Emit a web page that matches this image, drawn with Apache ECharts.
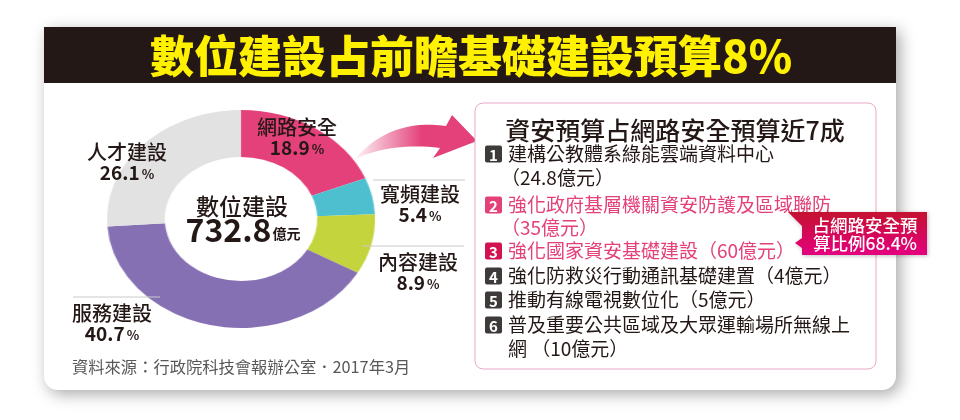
<!DOCTYPE html>
<html>
<head>
<meta charset="utf-8">
<script src="https://cdn.jsdelivr.net/npm/echarts@6/dist/echarts.min.js"></script>
<style>
  html, body { margin: 0; padding: 0; background: #fff; }
  #wrap { position: relative; width: 960px; height: 420px; overflow: hidden; }
  #bg, #main { position: absolute; left: 0; top: 0; width: 960px; height: 420px; }
  /* 圓環在原圖是橫向拉長的橢圓，所以單獨一個圖表再橫向縮放 */
  #pie { position: absolute; left: 91px; top: 99px; width: 300px; height: 240px;
         transform: scaleX(1.229); transform-origin: 50% 50%; }
</style>
</head>
<body>
<div id="wrap">
  <div id="bg"></div>
  <div id="pie"></div>
  <div id="main"></div>
</div>
<script>
// 數據
var categories = ['網路安全', '寬頻建設', '內容建設', '服務建設', '人才建設'];
var shares = [18.9, 5.4, 8.9, 40.7, 26.1];
var totalName = '數位建設';
var totalValue = '732.8';
var totalUnit = '億元';
var itemNames = [
  '建構公教體系綠能雲端資料中心',
  '強化政府基層機關資安防護及區域聯防',
  '強化國家資安基礎建設',
  '強化防救災行動通訊基礎建置',
  '推動有線電視數位化',
  '普及重要公共區域及大眾運輸場所無線上網'
];
var itemAmounts = [24.8, 35, 60, 4, 5, 10];
var securityShare = 68.4;

var FONT = '"Noto Sans CJK TC", "Noto Sans", sans-serif';
var sliceColors = ['#e4407a', '#4dbfcf', '#c3d43c', '#8670b4', '#e2e2e2'];

// 1.底圖：卡片與標題列
(function () {
  var myChart = echarts.init(document.getElementById('bg'));
  var g = [];
  g.push({
    type: 'rect', z: 1,
    shape: { x: 44, y: 27, width: 852, height: 363, r: [0, 0, 14, 14] },
    style: { fill: '#fff', shadowBlur: 16, shadowColor: 'rgba(0,0,0,0.35)', shadowOffsetX: 4, shadowOffsetY: 4 }
  });
  g.push({
    type: 'rect', z: 2,
    shape: { x: 44, y: 27, width: 852, height: 56 },
    style: { fill: '#231815' }
  });
  myChart.setOption({ animation: false, graphic: { elements: g } });
})();

// 2.圓環圖
(function () {
  var myChart = echarts.init(document.getElementById('pie'));
  var option = {
    animation: false,
    color: sliceColors,
    series: [
      {
        type: 'pie',
        center: ['50%', '50%'],
        radius: [62, 109],
        startAngle: 90,
        clockwise: true,
        silent: true,
        label: { show: false },
        labelLine: { show: false },
        data: categories.map(function (c, i) {
          return { name: c, value: shares[i] };
        })
      }
    ]
  };
  myChart.setOption(option);
})();

// 3.上層文字、箭頭、右側框
(function () {
  var myChart = echarts.init(document.getElementById('main'));
  var g = [];

  g.push({
    type: 'text', z: 3, x: 471, y: 56,
    style: {
      text: '數位建設占前瞻基礎建設預算8%', fill: '#fff100',
      font: '900 44px ' + FONT, align: 'center', verticalAlign: 'middle'
    }
  });

  // 圓環標籤位置（樣式）
  var labelPos = [
    { x: 297, y: 127 },
    { x: 420, y: 194 },
    { x: 418, y: 262 },
    { x: 112, y: 313 },
    { x: 127, y: 152 }
  ];
  categories.forEach(function (c, i) {
    var p = labelPos[i];
    g.push({
      type: 'text', z: 3, x: p.x, y: p.y,
      style: { text: c, fill: '#231815', font: '500 20px ' + FONT, align: 'center', verticalAlign: 'middle' }
    });
    g.push({
      type: 'text', z: 3, x: p.x, y: p.y + 21,
      style: {
        text: '{n|' + shares[i].toFixed(1) + '}{p|%}',
        align: 'center', verticalAlign: 'middle',
        rich: {
          n: { font: 'bold 19px ' + FONT, fill: '#231815' },
          p: { font: 'bold 13px ' + FONT, fill: '#231815', padding: [3, 0, 0, 2] }
        }
      }
    });
  });

  // 引線
  [[373, 465, 180], [362, 464, 246], [73, 160, 297]].forEach(function (l) {
    g.push({
      type: 'line', z: 3,
      shape: { x1: l[0], y1: l[2], x2: l[1], y2: l[2] },
      style: { stroke: '#c9caca', lineWidth: 1 }
    });
  });

  // 圓心
  g.push({
    type: 'text', z: 3, x: 242, y: 206,
    style: { text: totalName, fill: '#231815', font: '500 23px ' + FONT, align: 'center', verticalAlign: 'middle' }
  });
  g.push({
    type: 'text', z: 3, x: 243, y: 230,
    style: {
      text: '{n|' + totalValue + '}{u|' + totalUnit + '}',
      align: 'center', verticalAlign: 'middle',
      rich: {
        n: { font: 'bold 32px ' + FONT, fill: '#231815' },
        u: { font: 'bold 14px ' + FONT, fill: '#231815', padding: [8, 0, 0, 1] }
      }
    }
  });

  // 資料來源
  g.push({
    type: 'text', z: 3, x: 72, y: 367,
    style: { text: '資料來源：行政院科技會報辦公室．2017年3月', fill: '#595757', font: '16.3px ' + FONT, verticalAlign: 'middle' }
  });

  // 箭頭：兩條二次曲線取點組成多邊形
  function quad(p0, p1, p2, n) {
    var pts = [];
    for (var k = 0; k <= n; k++) {
      var t = k / n, u = 1 - t;
      pts.push([u * u * p0[0] + 2 * u * t * p1[0] + t * t * p2[0],
                u * u * p0[1] + 2 * u * t * p1[1] + t * t * p2[1]]);
    }
    return pts;
  }
  var arrowPts = quad([355, 159], [390, 118], [446, 126], 16)
    .concat([[452, 115], [477, 141], [433, 158]])
    .concat(quad([440, 148], [392, 142], [355, 159], 16));
  g.push({
    type: 'polygon', z: 3,
    shape: { points: arrowPts },
    style: {
      fill: new echarts.graphic.LinearGradient(0, 0, 1, 0, [
        { offset: 0, color: 'rgba(228,64,122,0.05)' },
        { offset: 0.55, color: '#e4407a' },
        { offset: 1, color: '#e4407a' }
      ])
    }
  });

  // 右側框
  g.push({
    type: 'rect', z: 3,
    shape: { x: 475, y: 103, width: 401, height: 266, r: 8 },
    style: { fill: '#fff', stroke: '#e8a9c6', lineWidth: 1 }
  });
  g.push({
    type: 'text', z: 4, x: 675, y: 130,
    style: { text: '資安預算占網路安全預算近7成', fill: '#231815', font: '500 25px ' + FONT, align: 'center', verticalAlign: 'middle' }
  });

  var badgeColors = ['#3e3a39', '#e4407a', '#d3134f', '#3e3a39', '#3e3a39', '#3e3a39'];
  var textColors = ['#231815', '#e4407a', '#e4407a', '#231815', '#231815', '#231815'];
  // 每一項的行（第一行含編號）
  var lines = [
    [itemNames[0], '（' + itemAmounts[0] + '億元）'],
    [itemNames[1], '（' + itemAmounts[1] + '億元）'],
    [itemNames[2] + '（' + itemAmounts[2] + '億元）'],
    [itemNames[3] + '（' + itemAmounts[3] + '億元）'],
    [itemNames[4] + '（' + itemAmounts[4] + '億元）'],
    [itemNames[5].slice(0, -1), itemNames[5].slice(-1) + ' （' + itemAmounts[5] + '億元）']
  ];
  var lineY = [[154, 178], [205, 228], [251], [276], [300], [325, 349]];
  lines.forEach(function (ls, i) {
    g.push({
      type: 'rect', z: 4,
      shape: { x: 485, y: lineY[i][0] - 8.5, width: 17, height: 17, r: 2 },
      style: { fill: badgeColors[i] }
    });
    g.push({
      type: 'text', z: 5, x: 493.5, y: lineY[i][0] + 1,
      style: { text: String(i + 1), fill: '#fff', font: 'bold 15px ' + FONT, align: 'center', verticalAlign: 'middle' }
    });
    ls.forEach(function (t, k) {
      var x = 508;
      if (k > 0 && t.charAt(0) === '（') x = 501;
      g.push({
        type: 'text', z: 4, x: x, y: lineY[i][k],
        style: { text: t, fill: textColors[i], font: '19px ' + FONT, verticalAlign: 'middle' }
      });
    });
  });

  // 標註
  g.push({
    type: 'polygon', z: 6,
    shape: { points: [[788, 212], [927, 212], [927, 255], [802, 255], [802, 248], [795, 243], [802, 238], [802, 226]] },
    style: {
      fill: new echarts.graphic.LinearGradient(0, 0, 0, 1, [
        { offset: 0, color: '#c4122f' },
        { offset: 1, color: '#e4007f' }
      ]),
      shadowBlur: 4, shadowColor: 'rgba(0,0,0,0.25)', shadowOffsetX: 1, shadowOffsetY: 1
    }
  });
  g.push({
    type: 'text', z: 7, x: 865, y: 225,
    style: { text: '占網路安全預', fill: '#fff', font: '500 17.5px ' + FONT, align: 'center', verticalAlign: 'middle' }
  });
  g.push({
    type: 'text', z: 7, x: 865, y: 243,
    style: { text: '算比例' + securityShare + '%', fill: '#fff', font: '500 17.5px ' + FONT, align: 'center', verticalAlign: 'middle' }
  });

  var option = {
    animation: false,
    graphic: { elements: g }
  };
  myChart.setOption(option);
})();
</script>
</body>
</html>
